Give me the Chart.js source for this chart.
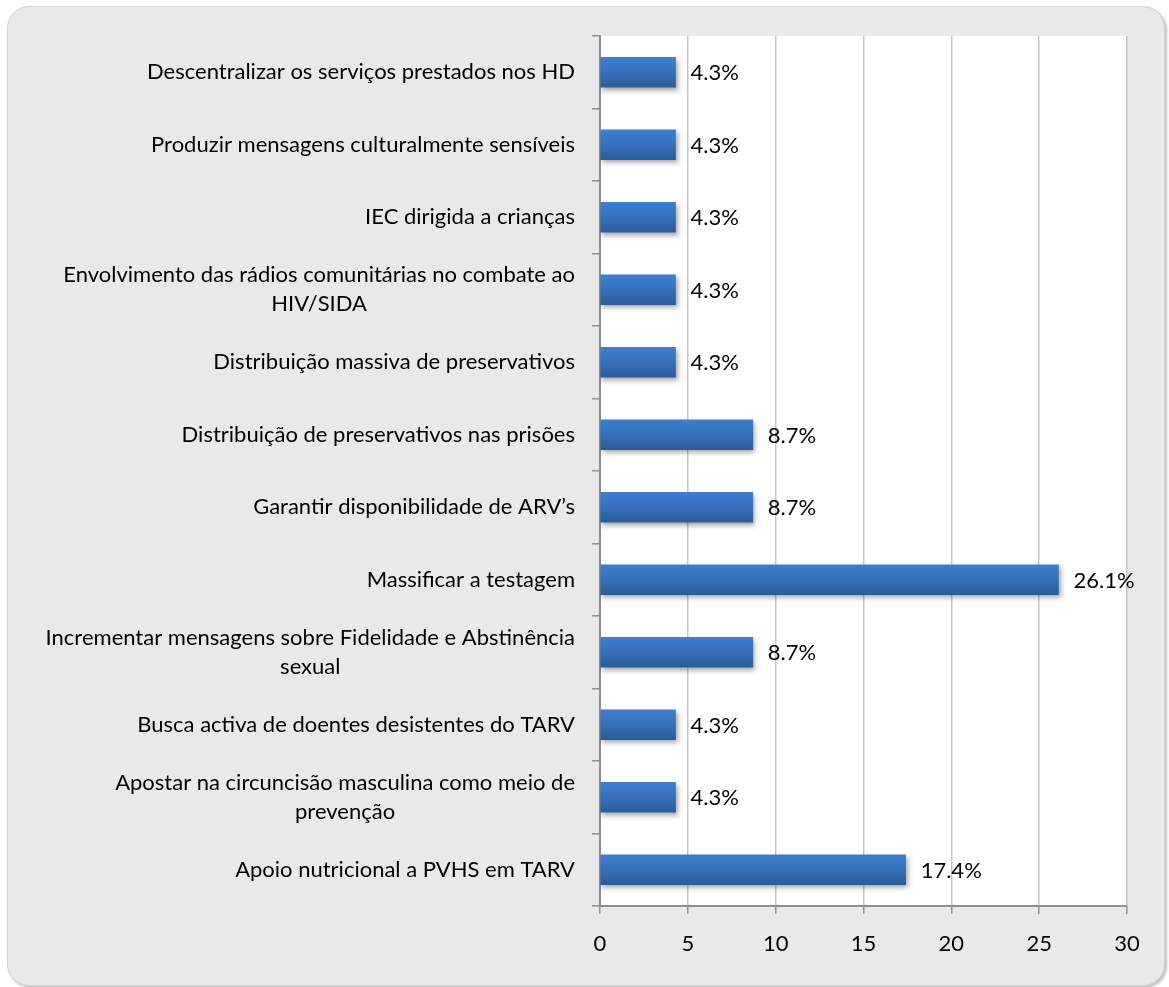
<!DOCTYPE html>
<html>
<head>
<meta charset="utf-8">
<script src="https://cdn.jsdelivr.net/npm/chart.js@4/dist/chart.umd.min.js"></script>
<style>
  html, body { margin: 0; padding: 0; background: #ffffff; }
  #frame {
    position: absolute; left: 7px; top: 6px; width: 1156px; height: 978px;
    background: #e9e9e9; border: 1px solid #d2d2d2; border-radius: 22px;
    box-shadow: 2px 2px 3px rgba(0,0,0,0.25);
  }
  #wrap { position: absolute; left: 0; top: 0; width: 1169px; height: 987px; }
</style>
</head>
<body>
<div id="frame"></div>
<div id="wrap"><canvas id="myChart" width="1169" height="987"></canvas></div>
<script>
var categories = [
  'Descentralizar os serviços prestados nos HD',
  'Produzir mensagens culturalmente sensíveis',
  'IEC dirigida a crianças',
  ['Envolvimento das rádios comunitárias no combate ao', 'HIV/SIDA'],
  'Distribuição massiva de preservativos ',
  'Distribuição de preservativos nas prisões',
  'Garantir disponibilidade de ARV’s',
  'Massificar a testagem',
  ['Incrementar mensagens sobre Fidelidade e Abstinência', 'sexual'],
  'Busca activa de doentes desistentes do TARV',
  ['Apostar na circuncisão masculina como meio de', 'prevenção'],
  'Apoio nutricional a PVHS em TARV'
];
var values = [4.3, 4.3, 4.3, 4.3, 4.3, 8.7, 8.7, 26.1, 8.7, 4.3, 4.3, 17.4];
var xTicks = [0, 5, 10, 15, 20, 25, 30];

var fontFamily = "Lato, 'Open Sans', sans-serif";
var fontSize = 22;

// white plot area behind the bars
var plotBg = {
  id: 'plotBg',
  beforeDraw: function(chart) {
    var a = chart.chartArea, ctx = chart.ctx;
    ctx.save();
    ctx.fillStyle = '#ffffff';
    ctx.fillRect(a.left, a.top, a.right - a.left, a.bottom - a.top);
    ctx.restore();
  }
};

// soft shadow under the bars
var barShadow = {
  id: 'barShadow',
  beforeDatasetsDraw: function(chart) {
    var ctx = chart.ctx;
    ctx.save();
    ctx.shadowColor = 'rgba(0,0,0,0.35)';
    ctx.shadowBlur = 5;
    ctx.shadowOffsetX = 2;
    ctx.shadowOffsetY = 3;
  },
  afterDatasetsDraw: function(chart) {
    chart.ctx.restore();
  }
};

// percent labels at bar ends
var valueLabels = {
  id: 'valueLabels',
  afterDatasetsDraw: function(chart) {
    var ctx = chart.ctx;
    var meta = chart.getDatasetMeta(0);
    ctx.save();
    ctx.font = fontSize + 'px ' + fontFamily;
    ctx.fillStyle = '#000000';
    ctx.textAlign = 'left';
    ctx.textBaseline = 'middle';
    meta.data.forEach(function(bar, i) {
      ctx.fillText(values[i].toFixed(1) + '%', bar.x + 15, bar.y + 1);
    });
    ctx.restore();
  }
};

// category labels: block right aligned, lines centred inside the block
var yLabels = {
  id: 'yLabels',
  afterDraw: function(chart) {
    var ctx = chart.ctx, scale = chart.scales.y;
    var lineH = 29;
    ctx.save();
    ctx.font = fontSize + 'px ' + fontFamily;
    ctx.fillStyle = '#000000';
    ctx.textAlign = 'center';
    ctx.textBaseline = 'middle';
    categories.forEach(function(lab, i) {
      var lines = Array.isArray(lab) ? lab : [lab];
      var w = 0;
      lines.forEach(function(l) { w = Math.max(w, ctx.measureText(l.trim()).width); });
      var right = scale.right - 25;
      var cx = right - w / 2;
      var cy = scale.getPixelForTick(i);
      var y0 = cy - (lines.length - 1) * lineH / 2;
      lines.forEach(function(l, k) {
        ctx.fillText(l.trim(), cx, y0 + k * lineH);
      });
    });
    ctx.restore();
  }
};

function barGradient(c) {
  var chart = c.chart;
  var ys = chart.scales && chart.scales.y;
  if (!ys || c.dataIndex === undefined) return '#3670ba';
  var cy = ys.getPixelForValue(c.dataIndex);
  if (!isFinite(cy)) return '#3670ba';
  var g = chart.ctx.createLinearGradient(0, cy - 15, 0, cy + 15);
  g.addColorStop(0, '#3e7fd0');
  g.addColorStop(0.5, '#3670ba');
  g.addColorStop(1, '#2c5b98');
  return g;
}

var ctx = document.getElementById('myChart').getContext('2d');
var chart = new Chart(ctx, {
  type: 'bar',
  data: {
    labels: categories,
    datasets: [{
      data: values,
      backgroundColor: barGradient,
      borderWidth: 0,
      barThickness: 30
    }]
  },
  options: {
    indexAxis: 'y',
    responsive: false,
    animation: false,
    layout: { padding: { left: 0, top: 36, right: 42, bottom: 21 } },
    plugins: { legend: { display: false }, tooltip: { enabled: false } },
    scales: {
      x: {
        min: 0, max: 30,
        afterBuildTicks: function(s) { s.ticks = xTicks.map(function(v) { return { value: v }; }); },
        afterFit: function(s) { s.height = 60; },
        grid: { color: '#c6c6c6', lineWidth: 1.5, tickLength: 8, tickColor: '#8f8f8f' },
        border: { color: '#8f8f8f', width: 2 },
        ticks: { color: '#000000', padding: 17, font: { family: fontFamily, size: fontSize } }
      },
      y: {
        afterFit: function(s) { s.width = 600; },
        grid: { drawOnChartArea: false, tickLength: 8, color: '#8f8f8f', lineWidth: 1.5, offset: true },
        border: { color: '#8f8f8f', width: 2 },
        ticks: { display: false }
      }
    }
  },
  plugins: [plotBg, barShadow, valueLabels, yLabels]
});
chart.update();
</script>
</body>
</html>
